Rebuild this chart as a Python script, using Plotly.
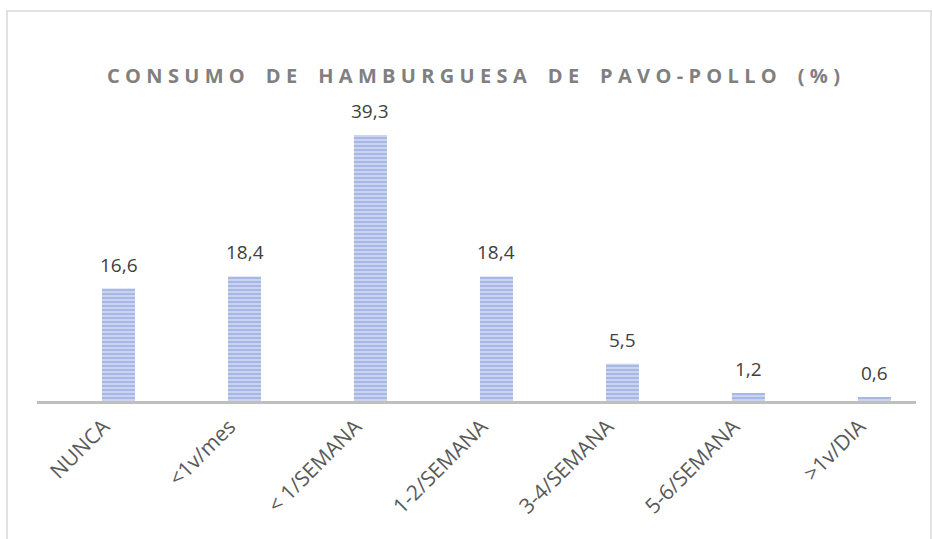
import plotly.graph_objects as go

categories = ["NUNCA", "<1v/mes", "< 1/SEMANA", "1-2/SEMANA", "3-4/SEMANA", "5-6/SEMANA", ">1v/DIA"]
values = [16.6, 18.4, 39.3, 18.4, 5.5, 1.2, 0.6]
labels = ["16,6", "18,4", "39,3", "18,4", "5,5", "1,2", "0,6"]
title_text = "CONSUMO DE HAMBURGUESA DE PAVO-POLLO (%)"

W, H = 932, 539
L, R, T, B = 37, 16, 100, 138
pw, ph = W - L - R, H - T - B

def spaced(s):
    out = []
    for ch in s:
        if ch == " ":
            out.append("\u00a0\u00a0")
        else:
            out.append(ch)
    return "\u2009\u200a".join(out)

fig = go.Figure()
fig.add_trace(go.Bar(
    x=categories, y=values, width=0.262,
    marker=dict(color="#c3cfee", line=dict(width=0),
                pattern=dict(shape="-", fgcolor="#8799d8", bgcolor="#c9d4f0", size=4, solidity=0.5)),
    hoverinfo="skip",
))

for c, v, t in zip(categories, values, labels):
    fig.add_annotation(x=c, y=v, text=t, showarrow=False, yshift=24,
                       font=dict(family="Open Sans", size=19, color="#404040"))

fig.add_annotation(xref="paper", yref="paper", x=(473 - L) / pw, y=(H - B - 75) / ph,
                   xanchor="center", yanchor="middle",
                   text="<b>" + spaced(title_text) + "</b>", showarrow=False,
                   font=dict(family="Open Sans", size=20, color="#808080"))

fig.add_shape(type="rect", xref="paper", yref="paper",
              x0=(7 - L) / pw, x1=(931 - L) / pw, y0=-(B + 10) / ph, y1=(H - B - 11) / ph,
              line=dict(color="#d9d9d9", width=1.5), fillcolor="rgba(0,0,0,0)", layer="below")

fig.update_layout(
    width=W, height=H,
    margin=dict(l=L, r=R, t=T, b=B),
    paper_bgcolor="white", plot_bgcolor="white",
    showlegend=False,
    xaxis=dict(type="category", range=[-0.647, 6.33], showline=True, linecolor="#bfbfbf", linewidth=3,
               tickangle=-45, ticks="", showgrid=False, automargin=False,
               ticklabelshift=-15, ticklabelstandoff=2,
               tickfont=dict(family="Open Sans", size=21, color="#595959")),
    yaxis=dict(range=[0, 44.46], visible=False, showgrid=False, zeroline=False),
)

fig.write_html("out.html", config={"displayModeBar": False, "staticPlot": True},
               post_script="document.body.style.margin='0';document.body.style.padding='0';")
